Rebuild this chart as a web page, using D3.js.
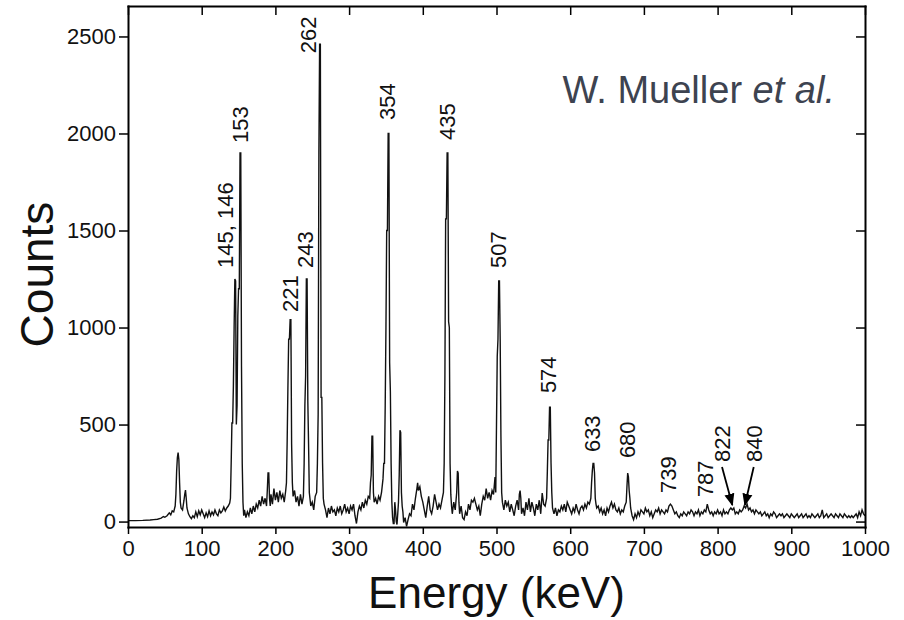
<!DOCTYPE html>
<html>
<head>
<meta charset="utf-8">
<title>Gamma spectrum</title>
<style>
body { margin: 0; background: #fff; }
svg { display: block; font-family: "Liberation Sans", Arial, sans-serif; }
.axis path, .axis line { stroke: #000; }
.axis path { stroke-width: 2px; }
.axis line { stroke-width: 1.5px; }
.axis text { font-size: 22px; fill: #111; }
.peak { font-size: 22px; fill: #111; }
</style>
<script src="https://d3js.org/d3.v7.min.js"></script>
</head>
<body>
<div id="result"></div>
<script>
// spectrum: [energy keV, counts]
var spectrum = [
[0,5],[10,5],[20,6],[30,8],[35,10],[40,12],[45,18],[48,26],[50,22],[53,30],[56,45],[58,35],[60,55],[62,50],[64,80],[65,140],[66,260],[67,330],[68,355],[69,320],[70,200],[71,100],[72,70],[74,60],[76,110],[77,140],[78,162],[79,120],[80,70],[82,40],[84,25],[86,15],[88,30],[90,20],[92,50],[94,25],[96,55],[98,35],[100,60],[102,40],[104,20],[106,45],[108,25],[110,55],[112,30],[114,50],[116,35],[118,60],[120,40],[122,30],[124,60],[126,45],[128,55],[130,75],[132,55],[134,70],[136,80],[138,95],[139,120],[140,300],[141,508],[142,508],[143,700],[144,1000],[145,1250],[146,1240],[147,500],[148,600],[149,1060],[150,1200],[151,1200],[152,1900],[153,1900],[154,800],[155,300],[156,100],[157,30],[158,60],[160,20],[162,50],[164,30],[166,70],[168,40],[170,80],[172,50],[174,90],[176,70],[178,110],[180,80],[182,130],[184,90],[186,120],[188,80],[189,160],[190,251],[191,251],[192,120],[193,80],[194,140],[196,90],[198,170],[200,110],[202,150],[204,100],[206,160],[208,120],[210,140],[212,100],[214,160],[215,200],[216,420],[217,700],[218,940],[219,940],[220,1040],[221,1040],[222,400],[223,200],[224,130],[226,160],[228,100],[230,130],[232,80],[234,140],[236,90],[238,130],[239,300],[240,600],[241,750],[242,1250],[243,1250],[244,620],[245,400],[246,150],[248,80],[250,100],[252,60],[254,130],[256,150],[257,300],[258,550],[259,1900],[260,2460],[261,2460],[262,640],[263,640],[264,300],[265,120],[266,90],
[268,60],[270,20],[272,70],[274,40],[276,80],[278,50],[280,60],[282,30],[284,70],[286,50],[288,80],[290,40],[292,60],[294,90],[296,50],[298,70],[300,40],[302,80],[304,60],[306,90],[308,30],[310,-10],[312,50],[314,80],[316,60],[318,100],[320,70],[322,110],[324,90],[326,130],[328,120],[329,200],[330,240],[331,440],[332,440],[333,150],[334,100],[336,120],[338,90],[340,130],[342,110],[344,150],[346,220],[347,300],[348,300],[349,600],[350,1000],[351,1500],[352,1500],[353,2000],[354,2000],[355,820],[356,670],[357,300],[358,100],[359,20],[360,-10],[361,-10],[362,100],[363,60],[364,0],[365,-15],[366,40],[367,100],[368,240],[369,470],[370,460],[371,150],[372,80],[373,50],[374,-5],[376,20],[378,-25],[380,10],[382,40],[384,30],[386,90],[388,60],[390,120],[392,170],[393,200],[394,160],[396,180],[398,130],[400,100],[402,60],[404,20],[406,80],[408,130],[410,60],[412,40],[414,80],[416,140],[418,100],[420,60],[422,90],[424,70],[426,110],[428,150],[429,300],[430,750],[431,1560],[432,1560],[433,1900],[434,1900],[435,1030],[436,1000],[437,300],[438,140],[439,80],[440,40],[442,100],[444,60],[446,150],[447,260],[448,250],[449,100],[450,40],[452,80],[454,20],[456,10],[458,50],[460,30],[462,90],[464,60],[466,110],[468,100],[470,120],[472,90],[474,60],[476,80],[478,30],[480,90],[482,130],[484,110],[486,170],[488,120],[490,150],[492,110],[494,160],[496,140],[498,230],[499,150],[500,500],[501,850],[502,940],[503,1240],[504,1240],[505,940],[506,440],[507,150],[508,100],
[510,60],[512,110],[514,80],[516,100],[518,50],[520,90],[522,60],[524,30],[526,80],[528,110],[530,60],[531,140],[532,160],[533,120],[534,40],[536,70],[538,30],[540,100],[542,60],[544,120],[546,50],[548,100],[550,70],[552,30],[554,90],[556,60],[558,110],[560,40],[562,147],[564,90],[566,80],[568,120],[569,260],[570,420],[571,420],[572,590],[573,590],[574,300],[575,150],[576,70],[578,40],[580,70],[582,30],[584,60],[586,50],[588,80],[590,60],[592,90],[594,50],[596,100],[598,80],[600,60],[602,40],[604,70],[606,50],[608,90],[610,60],[612,40],[614,70],[616,80],[618,60],[620,90],[622,70],[624,100],[626,90],[628,120],[629,200],[630,260],[631,300],[632,300],[633,250],[634,120],[635,90],[636,70],[638,80],[640,50],[642,70],[644,40],[646,60],[648,30],[650,70],[652,50],[654,80],[656,100],[658,70],[660,90],[662,60],[664,50],[666,70],[668,40],[670,60],[672,50],[674,80],[676,100],[677,180],[678,250],[679,230],[680,160],[681,120],[682,70],[684,30],[686,10],[688,40],[690,20],[692,50],[694,30],[696,60],[698,50],[700,40],[702,70],[704,50],[706,60],[708,30],[710,50],[712,20],[714,40],[716,60],[718,50],[720,70],[722,40],[724,60],[726,50],[728,40],[730,60],[732,50],[734,80],[736,90],[738,80],[740,60],[742,40],[744,50],[746,30],[748,20],[750,40],[752,30],[754,50],[756,40],[758,30],[760,50],[762,40],[764,60],[766,50],[768,30],[770,50],[772,40],[774,60],[776,30],[778,50],[780,40],[782,60],[784,50],[786,90],[788,60],[790,40],[792,50],[794,30],[796,50],[798,40],[800,60],[802,40],[804,50],[806,30],[808,60],[810,40],[812,50],[814,40],[816,60],[818,70],[820,60],[822,70],[824,40],[826,50],[828,40],[830,60],[832,50],[834,60],[836,80],[838,70],[840,90],[842,60],[844,70],[846,50],[848,60],[850,40],[852,60],[854,50],[856,40],[858,50],[860,30],[862,40],[864,50],[866,30],[868,40],[870,20],[872,40],[874,30],[876,50],[878,40],[880,20],[882,30],[884,40],[886,30],[888,40],[890,20],[892,30],[894,40],[896,30],[898,20],[900,40],[902,30],[904,20],[906,30],[908,40],[910,20],[912,30],[914,40],[916,20],[918,30],[920,40],[922,20],[924,30],[926,20],[928,40],[930,30],[932,20],[934,30],[936,40],[938,20],[940,30],[942,60],[944,20],[946,30],[948,40],[950,20],[952,30],[954,40],[956,30],[958,20],[960,40],[962,30],[964,20],[966,40],[968,30],[970,20],[972,40],[974,30],[976,20],[978,30],[980,20],[982,30],[984,20],[986,30],[988,40],[990,20],[992,50],[994,30],[996,60],[998,40],[1000,30]
];

// peak labels: text, energy and counts of the label foot
var peakText   = ["145, 146","153","221","243","262","354","435","507","574","633","680","739","787","822","840"];
var peakEnergy = [131.6, 152, 219.8, 240, 244, 351, 433, 502, 570, 630, 677, 733, 783, 806, 849];
var peakCounts = [1307, 1951, 1080, 1307, 2414, 2070, 1966, 1307, 662, 358, 327, 147, 126, 307, 307];

// arrows for the weak lines: [fromE, fromC, toE, toC]
var arrows = [[806, 281, 820, 85], [849, 281, 837, 85]];

var xTicks = [0,100,200,300,400,500,600,700,800,900,1000];
var yTicks = [0,500,1000,1500,2000,2500];

var W = 904, H = 620;
var m = {left: 128, right: 39, top: 6, bottom: 93};

var svg = d3.select('#result').append('svg').attr('width', W).attr('height', H);

var x = d3.scaleLinear().domain([0, 1000]).range([m.left, W - m.right]);
var y = d3.scaleLinear().domain([-28, 2657]).range([H - m.bottom, m.top]);

svg.append('defs').append('clipPath').attr('id', 'clip')
  .append('rect').attr('x', m.left).attr('y', m.top)
  .attr('width', W - m.left - m.right).attr('height', H - m.top - m.bottom);

svg.append('defs').append('marker').attr('id', 'arr')
  .attr('viewBox', '0 0 10 10').attr('refX', 9).attr('refY', 5)
  .attr('markerWidth', 7).attr('markerHeight', 7).attr('orient', 'auto')
  .append('path').attr('d', 'M0,1 L10,5 L0,9 z').attr('fill', '#000');

var line = d3.line().x(d => x(d[0])).y(d => y(d[1]));

svg.append('path').datum(spectrum)
  .attr('clip-path', 'url(#clip)')
  .attr('d', line)
  .attr('fill', 'none').attr('stroke', '#111').attr('stroke-width', 1.4)
  .attr('stroke-linejoin', 'miter');

var fmt = d3.format('d');

// axes
svg.append('g').attr('class', 'axis')
  .attr('transform', `translate(0,${H - m.bottom})`)
  .call(d3.axisBottom(x).tickValues(xTicks).tickFormat(fmt).tickSize(7).tickPadding(6).tickSizeOuter(0));

svg.append('g').attr('class', 'axis')
  .attr('transform', `translate(0,${m.top})`)
  .call(d3.axisTop(x).tickValues(xTicks).tickSize(-9).tickSizeOuter(0).tickFormat(''));

svg.append('g').attr('class', 'axis')
  .attr('transform', `translate(${m.left},0)`)
  .call(d3.axisLeft(y).tickValues(yTicks).tickFormat(fmt).tickSize(9).tickPadding(3).tickSizeOuter(0));

svg.append('g').attr('class', 'axis')
  .attr('transform', `translate(${W - m.right},0)`)
  .call(d3.axisRight(y).tickValues(yTicks).tickSize(-9).tickSizeOuter(0).tickFormat(''));

svg.selectAll('.axis .domain').attr('stroke-linecap', 'square');

// peak labels
svg.selectAll('text.peak').data(peakText).enter().append('text')
  .attr('class', 'peak')
  .attr('transform', (d, i) => `translate(${x(peakEnergy[i])},${y(peakCounts[i])}) rotate(-90)`)
  .attr('dy', '0.36em')
  .text(d => d);

svg.selectAll('line.arrow').data(arrows).enter().append('line')
  .attr('class', 'arrow')
  .attr('x1', d => x(d[0])).attr('y1', d => y(d[1]))
  .attr('x2', d => x(d[2])).attr('y2', d => y(d[3]))
  .attr('stroke', '#000').attr('stroke-width', 1.8)
  .attr('marker-end', 'url(#arr)');

// axis titles
svg.append('text')
  .attr('transform', `translate(53,${(m.top + H - m.bottom) / 2 + 8}) rotate(-90)`)
  .attr('text-anchor', 'middle')
  .style('font-size', '46px').attr('fill', '#111')
  .text('Counts');

svg.append('text')
  .attr('x', (m.left + W - m.right) / 2).attr('y', 608)
  .attr('text-anchor', 'middle')
  .style('font-size', '44px').attr('fill', '#111')
  .text('Energy (keV)');

var credit = svg.append('text')
  .attr('x', 835).attr('y', 103)
  .attr('text-anchor', 'end')
  .style('font-size', '38px').attr('fill', '#3d4350');
credit.append('tspan').text('W. Mueller ');
credit.append('tspan').style('font-style', 'italic').text('et al.');
</script>
</body>
</html>
